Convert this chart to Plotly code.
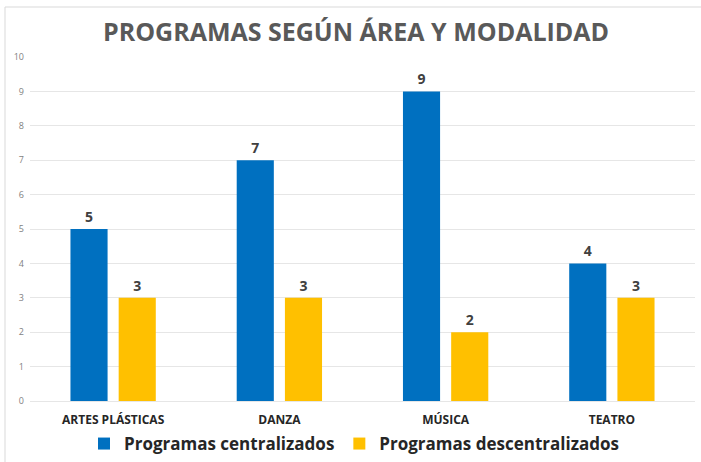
import plotly.graph_objects as go

categories = ["ARTES PLÁSTICAS", "DANZA", "MÚSICA", "TEATRO"]
centralizados = [5, 7, 9, 4]
descentralizados = [3, 3, 2, 3]
y_ticks = list(range(0, 11))

BLUE = "#0070C0"
YELLOW = "#FFC000"
FONT = "Open Sans"

W, H = 701, 462
L, R, T, B = 30, 6, 57, 61
pw, ph = W - L - R, H - T - B

fig = go.Figure()
for name, vals, col in [("Programas centralizados", centralizados, BLUE),
                        ("Programas descentralizados", descentralizados, YELLOW)]:
    fig.add_trace(go.Bar(
        x=categories, y=vals, name=name,
        marker=dict(color=col, line=dict(width=0)),
        text=[str(v) for v in vals], textposition="outside",
        textfont=dict(family=FONT, size=14, color="#404040", weight="bold"),
        cliponaxis=False,
    ))

fig.update_layout(
    width=W, height=H,
    margin=dict(l=L, r=R, t=T, b=B, autoexpand=False),
    paper_bgcolor="white", plot_bgcolor="white",
    barmode="group", bargap=0.42, bargroupgap=0.23,
    title=dict(text="<b>PROGRAMAS SEGÚN ÁREA Y MODALIDAD</b>",
               x=356 / W, xanchor="center", xref="container",
               y=1 - 32 / H, yanchor="middle", yref="container",
               font=dict(family=FONT, size=25, color="#595959")),
    showlegend=True,
    legend=dict(orientation="h", x=(354 - L) / pw, xanchor="center", xref="paper",
                y=1 - 444 / H, yanchor="middle", yref="container",
                font=dict(family=FONT, size=17, color="#262626", weight="bold"),
                itemwidth=30, traceorder="normal"),
)
fig.update_yaxes(range=[0, 10], tickvals=y_ticks, showgrid=True, gridcolor="#E6E6E6",
                 gridwidth=1, zeroline=False, showline=False, ticks="", automargin=False,
                 tickfont=dict(family=FONT, size=9, color="#7F7F7F"), ticklabelstandoff=5)
fig.update_xaxes(showgrid=False, showline=True, linecolor="#E6E6E6", linewidth=1, ticks="",
                 automargin=False, ticklabelstandoff=8,
                 tickfont=dict(family=FONT, size=12, color="#262626", weight="bold"))

# partial chart frame (top and left edges visible)
fx0 = (5 - L) / pw
fx1 = (W - L) / pw
fy_top = (H - B - 7) / ph
fy_bot = (H - B - H) / ph
fig.add_shape(type="line", xref="paper", yref="paper", x0=fx0, x1=fx1, y0=fy_top, y1=fy_top,
              line=dict(color="#D9D9D9", width=1))
fig.add_shape(type="line", xref="paper", yref="paper", x0=fx0, x1=fx0, y0=fy_top, y1=fy_bot,
              line=dict(color="#D9D9D9", width=1))

fig.write_html("out.html", config={"displayModeBar": False},
               post_script="document.body.style.margin='0';")
